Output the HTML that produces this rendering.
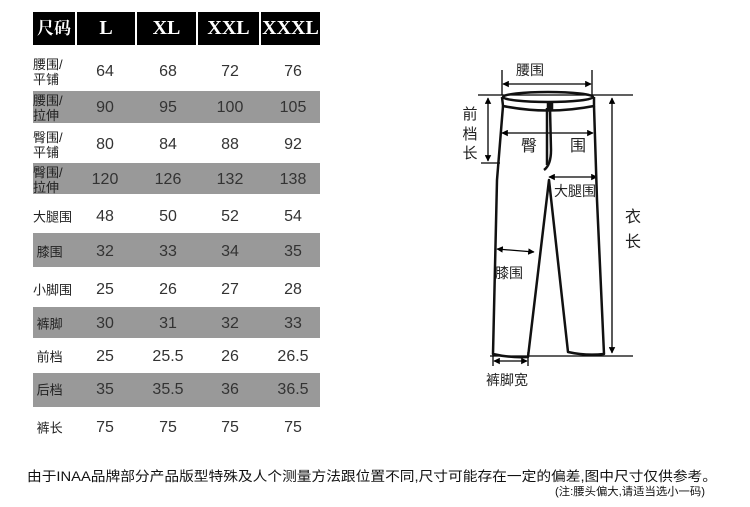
<!DOCTYPE html>
<html><head><meta charset="utf-8"><style>
body{margin:0;width:750px;height:507px;background:#fff;position:relative;overflow:hidden;font-family:"Liberation Sans","Noto Sans CJK SC",sans-serif;color:#222}
.h{position:absolute;top:12px;height:33px;background:#000;color:#fff;font-family:"Liberation Serif","Noto Serif CJK SC",serif;font-weight:bold;font-size:20px;line-height:33px;text-align:center}
.g{position:absolute;left:33px;width:287px;background:#999}
.t{position:absolute;font-size:16px;color:#333;text-align:center;width:60px;transform:translateY(-50%)}
.l{position:absolute;left:33px;width:46px;font-size:13px;line-height:15px;text-align:left;transform:translateY(-50%)}
</style></head><body>
<div class="h" style="left:33px;width:42px;font-size:17px">尺码</div>
<div class="h" style="left:77px;width:58px">L</div>
<div class="h" style="left:137px;width:59px">XL</div>
<div class="h" style="left:198px;width:61px">XXL</div>
<div class="h" style="left:261px;width:59px">XXXL</div>
<div class="g" style="top:91px;height:32px"></div>
<div class="g" style="top:163px;height:31px"></div>
<div class="g" style="top:233px;height:34px"></div>
<div class="g" style="top:307px;height:31px"></div>
<div class="g" style="top:373px;height:34px"></div>
<div id="rows"></div>
<script>
var d=[["腰围/<br>平铺",72,"64","68","72","76"],["腰围/<br>拉伸",108,"90","95","100","105"],["臀围/<br>平铺",145,"80","84","88","92"],["臀围/<br>拉伸",180,"120","126","132","138"],["大腿围",217,"48","50","52","54"],["&nbsp;膝围",252,"32","33","34","35"],["小脚围",290,"25","26","27","28"],["&nbsp;裤脚",324,"30","31","32","33"],["&nbsp;前档",357,"25","25.5","26","26.5"],["&nbsp;后档",390,"35","35.5","36","36.5"],["&nbsp;裤长",428,"75","75","75","75"]];
var c=[105,168,230,293],h="";
d.forEach(function(r){h+='<div class="l" style="top:'+r[1]+'px">'+r[0]+'</div>';for(var i=0;i<4;i++)h+='<div class="t" style="left:'+(c[i]-30)+'px;top:'+r[1]+'px">'+r[i+2]+'</div>';});
document.getElementById('rows').innerHTML=h;
</script>
<svg style="position:absolute;left:0;top:0" width="750" height="507" font-family="Liberation Sans,Noto Sans CJK SC,sans-serif" font-size="15" fill="#222">
<defs><marker id="a" viewBox="0 0 10 10" refX="9" refY="5" markerWidth="5" markerHeight="5" orient="auto-start-reverse"><path d="M0,0L10,5L0,10z" fill="#000"/></marker></defs>
<g stroke="#000" stroke-width="1.3" fill="none">
<line x1="478" y1="95" x2="633" y2="95"/>
<line x1="490" y1="356" x2="633" y2="356"/>
<line x1="502" y1="70" x2="502" y2="95"/><line x1="592" y1="70" x2="592" y2="95"/>
<line x1="503" y1="84" x2="591" y2="84" marker-start="url(#a)" marker-end="url(#a)"/>
<line x1="488" y1="98" x2="488" y2="161" marker-start="url(#a)" marker-end="url(#a)"/>
<line x1="481" y1="163" x2="500" y2="163"/>
<line x1="612" y1="98" x2="612" y2="353" marker-start="url(#a)" marker-end="url(#a)"/>
<line x1="502" y1="133" x2="593" y2="133" marker-start="url(#a)" marker-end="url(#a)"/>
<line x1="549" y1="177" x2="597" y2="177" marker-start="url(#a)" marker-end="url(#a)"/>
<line x1="497" y1="249" x2="534" y2="252" marker-start="url(#a)" marker-end="url(#a)"/>
<line x1="494" y1="361" x2="527" y2="361" marker-start="url(#a)" marker-end="url(#a)"/>
<line x1="493" y1="352" x2="493" y2="366"/><line x1="528" y1="352" x2="528" y2="366"/>
</g>
<g stroke="#111" stroke-width="2.5" fill="none" stroke-linejoin="round">
<ellipse cx="548" cy="97" rx="45" ry="5"/>
<path d="M502,97 L503,106 Q548,115 594,106 L594,97"/>
<path d="M503,106 L497,180 L493,354 Q510,358 528,357 L549,180 L568,352 Q586,356 604,354 L597,200 L594,106"/>
<path d="M550,108 L551,150 Q551,165 544,170"/>
<path d="M547,108 L547,165"/>
<rect x="548" y="103" width="4" height="6" fill="#111"/>
</g>
<g text-anchor="middle">
<text x="530" y="75" font-size="14">腰<tspan>围</tspan></text>
<text x="470" y="119">前</text><text x="470" y="139">档</text><text x="470" y="158">长</text>
<text x="529" y="151" font-size="16">臀</text><text x="578" y="151" font-size="16">围</text>
<text x="575" y="196" font-size="14">大腿围</text>
<text x="633" y="222" font-size="16">衣</text><text x="633" y="247" font-size="16">长</text>
<text x="509" y="278" font-size="14">膝围</text>
<text x="507" y="385" font-size="14">裤脚宽</text>
</g>
<text x="27" y="481" font-size="13.4" fill="#111" textLength="690" lengthAdjust="spacingAndGlyphs">由于INAA品牌部分产品版型特殊及人个测量方法跟位置不同,尺寸可能存在一定的偏差,图中尺寸仅供参考。</text>
<text x="555" y="495" font-size="11" fill="#111" textLength="150" lengthAdjust="spacingAndGlyphs">(注:腰头偏大,请适当选小一码)</text>
</svg>
</body></html>
